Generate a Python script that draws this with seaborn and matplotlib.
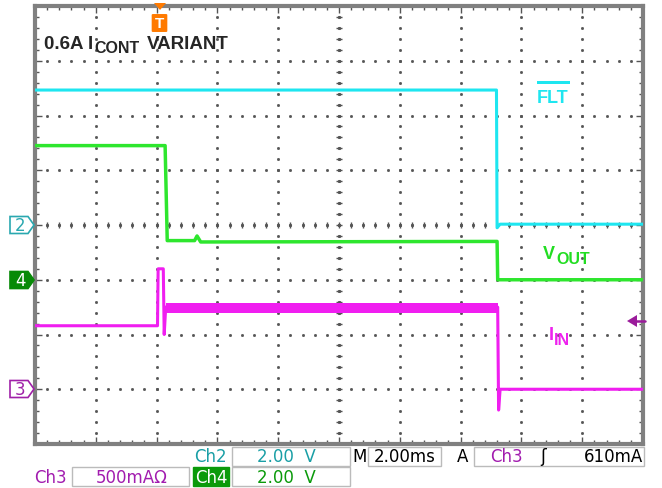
import numpy as np
import matplotlib
matplotlib.use("Agg")
import matplotlib.pyplot as plt
from matplotlib.patches import Polygon, Rectangle, FancyBboxPatch
import seaborn as sns

# scope capture values, time in ms (2 ms/div, 10 div)
flt_t = [0.0, 15.18, 15.20, 15.30, 20.0]
flt_v = [4.93, 4.93, -0.10, 0.03, 0.03]

vout_t = [0.0, 4.28, 4.35, 5.25, 5.33, 5.45, 15.20, 15.22, 20.0]
vout_v = [4.90, 4.90, 1.43, 1.43, 1.60, 1.38, 1.40, 0.0, 0.0]

iin_t = [0.0, 4.03, 4.05, 4.22, 4.25, 4.30, 15.22, 15.25, 15.30, 20.0]
iin_a = [0.58, 0.58, 1.10, 1.10, 0.50, 0.75, 0.75, -0.19, 0.0, 0.0]

# ripple band on the input current while the switch is on
iin_band_t = [4.30, 15.22]
iin_band_lo = [0.70, 0.70]
iin_band_hi = [0.79, 0.79]

# channel settings: units/div and ground offset in divisions
ch_scale = {"ch2": 2.0, "ch4": 2.0, "ch3": 0.5}
ch_offset = {"ch2": 0, "ch4": -1, "ch3": -3}

W, H = 662, 489
sns.set_style("white")
plt.rcParams["font.family"] = ["Liberation Sans", "DejaVu Sans"]

fig = plt.figure(figsize=(W / 100, H / 100), dpi=100)
rect = [35 / W, 1 - 445 / H, 608 / W, 438 / H]

def px(x, y):
    return (x / W, 1 - y / H)

# ---- graticule ----
ax = fig.add_axes(rect)
ax.set_xlim(0, 10)
ax.set_ylim(-4, 4)
ax.set_xticks(np.arange(0, 11, 1))
ax.set_yticks(np.arange(-4, 5, 1))
ax.set_xticks(np.arange(0, 10.01, 0.2), minor=True)
ax.set_yticks(np.arange(-4, 4.01, 0.2), minor=True)
ax.tick_params(which="both", direction="in", top=True, right=True, bottom=True, left=True,
               labelbottom=False, labelleft=False, color="#555555", width=1)
ax.tick_params(which="major", length=5)
ax.tick_params(which="minor", length=3)
for s in ax.spines.values():
    s.set_color("#808080")
    s.set_linewidth(3)

dots = np.arange(0, 10.01, 0.2)
vdots = np.arange(-4, 4.01, 0.2)
gc = "#555555"
for gx in range(1, 10):
    if gx == 5:
        continue
    ax.plot([gx] * len(vdots), vdots, ls="none", marker="s", ms=1.0, color=gc)
for gy in range(-3, 4):
    if gy == 0:
        continue
    ax.plot(dots, [gy] * len(dots), ls="none", marker="s", ms=1.0, color=gc)
ax.plot([5] * len(vdots), vdots, ls="none", marker="_", ms=5, mew=1, color=gc)
ax.plot(dots, [0] * len(dots), ls="none", marker="|", ms=5, mew=1, color=gc)
ax.plot([5] * len(vdots), vdots, ls="none", marker="s", ms=1.2, color=gc)
ax.plot(dots, [0] * len(dots), ls="none", marker="s", ms=1.2, color=gc)

# ---- traces, one axes per channel ----
def channel_axes(ch):
    a = fig.add_axes(rect, facecolor="none")
    sc, off = ch_scale[ch], ch_offset[ch]
    a.set_xlim(0, 20)
    a.set_ylim((-4 - off) * sc, (4 - off) * sc)
    a.axis("off")
    return a

cyan, green, magenta = "#1EE6F0", "#2EE62E", "#F01EF0"

a2 = channel_axes("ch2")
sns.lineplot(x=flt_t, y=flt_v, estimator=None, sort=False, ax=a2, color=cyan, lw=2.2)

a4 = channel_axes("ch4")
sns.lineplot(x=vout_t, y=vout_v, estimator=None, sort=False, ax=a4, color=green, lw=2.5)

a3 = channel_axes("ch3")
sns.lineplot(x=iin_t, y=iin_a, estimator=None, sort=False, ax=a3, color=magenta, lw=2.2)
a3.fill_between(iin_band_t, iin_band_lo, iin_band_hi, color=magenta, lw=0)

# ---- annotations ----
fig.text(*px(44, 49), "0.6A I", fontsize=13.5, fontweight="bold", va="baseline")
fig.text(*px(94, 53), "CONT", fontsize=11.5, fontweight="bold", va="baseline")
fig.text(*px(147, 49), "VARIANT", fontsize=13.5, fontweight="bold", va="baseline")

fig.text(*px(537, 103), "FLT", fontsize=13, fontweight="bold", color=cyan, va="baseline")
fig.add_artist(Rectangle(px(537, 85), 33 / W, 2.5 / H, transform=fig.transFigure, color=cyan, lw=0))
fig.text(*px(543, 259), "V", fontsize=13, fontweight="bold", color="#22DD22", va="baseline")
fig.text(*px(556, 264), "OUT", fontsize=11.5, fontweight="bold", color="#22DD22", va="baseline")
fig.text(*px(549, 340), "I", fontsize=13, fontweight="bold", color="#EE22EE", va="baseline")
fig.text(*px(554, 345), "IN", fontsize=11.5, fontweight="bold", color="#EE22EE", va="baseline")

# channel ground markers on the left
def ground_marker(y0, label, edge, face, txt):
    pts = [px(10, y0 - 8.5), px(28, y0 - 8.5), px(34, y0), px(28, y0 + 8.5), px(10, y0 + 8.5)]
    fig.add_artist(Polygon(pts, closed=True, transform=fig.transFigure, ec=edge, fc=face, lw=1.2))
    fig.text(*px(20, y0 + 0.5), label, fontsize=12, color=txt, ha="center", va="center",
             family="DejaVu Sans")

ground_marker(226, "2", "#2AA8B0", "white", "#2AA8B0")
ground_marker(281, "4", "#078A07", "#078A07", "white")
ground_marker(390, "3", "#A020A8", "white", "#A020A8")

# trigger marker at top
orange = "#FF7A00"
fig.add_artist(Polygon([px(154, 4), px(166, 4), px(160, 11)], closed=True,
                       transform=fig.transFigure, color=orange, lw=0))
fig.add_artist(FancyBboxPatch(px(153, 32), 13 / W, 16 / H, boxstyle="round,pad=0.002",
                              transform=fig.transFigure, color=orange, lw=0))
fig.text(*px(159.5, 24), "T", fontsize=11, fontweight="bold", color="white", ha="center", va="center")

# trigger level arrow on the right
purple = "#9B1B9B"
fig.add_artist(Polygon([px(627, 322), px(637, 316), px(637, 328)], closed=True,
                       transform=fig.transFigure, color=purple, lw=0))
fig.add_artist(plt.Line2D([636 / W, 645 / W], [1 - 322 / H, 1 - 322 / H],
                          transform=fig.transFigure, color=purple, lw=1.8))

# ---- status bar ----
def box(x0, y0, x1, y1, fc="white", ec="#BBBBBB"):
    fig.add_artist(Rectangle(px(x0, y1), (x1 - x0) / W, (y1 - y0) / H,
                             transform=fig.transFigure, fc=fc, ec=ec, lw=1))

def stat(x, y, s, color, ha="left"):
    fig.text(*px(x, y), s, fontsize=12, color=color, ha=ha, va="center", family="DejaVu Sans")

teal, ch3c, ch4c = "#1A9FA6", "#A21CAF", "#0A9A0A"
box(232, 448, 350, 467)
box(368, 448, 441, 467)
box(474, 448, 644, 467)
box(72, 468, 189, 487)
box(193, 468, 229, 487, fc=ch4c, ec=ch4c)
box(232, 468, 350, 487)

stat(194, 457, "Ch2", teal)
stat(286, 457, "2.00  V", teal, ha="center")
stat(352, 457, "M", "black")
stat(405, 457, "2.00ms", "black", ha="center")
stat(457, 457, "A", "black")
stat(490, 457, "Ch3", ch3c)
stat(540, 457, "\u0283", "black")
stat(643, 457, "610mA", "black", ha="right")

stat(34, 478, "Ch3", ch3c)
stat(132, 478, "500mA\u03a9", ch3c, ha="center")
stat(211, 478, "Ch4", "white", ha="center")
stat(286, 478, "2.00  V", ch4c, ha="center")

fig.savefig("out.png", dpi=100)
